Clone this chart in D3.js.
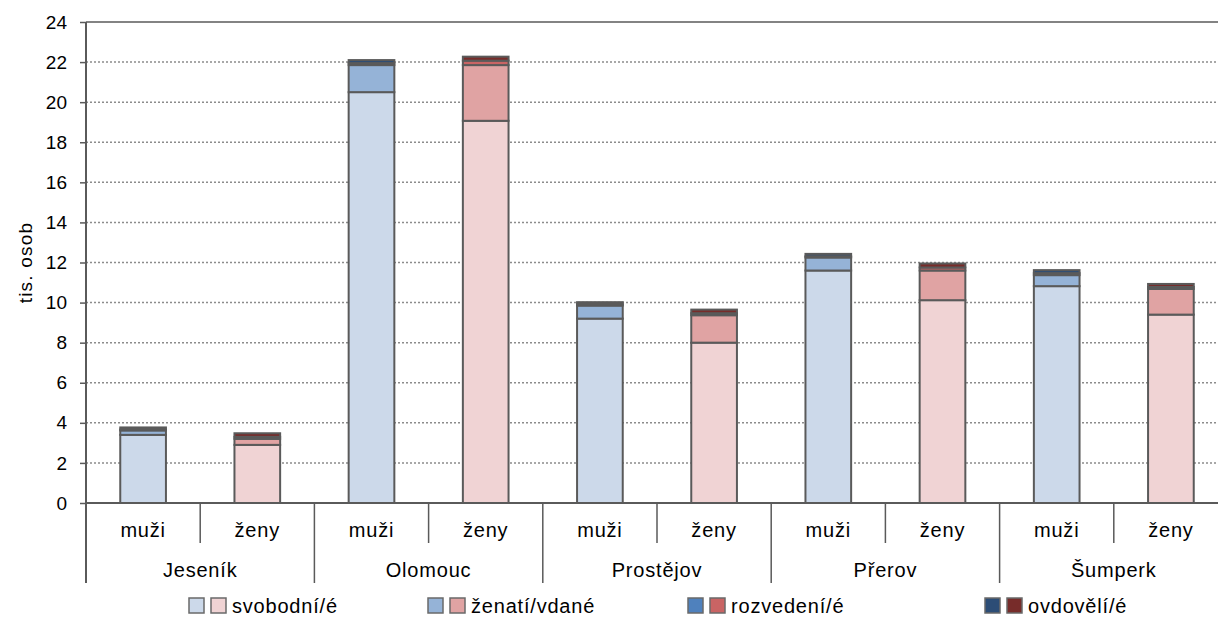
<!DOCTYPE html>
<html>
<head>
<meta charset="utf-8">
<script src="https://cdn.jsdelivr.net/npm/d3@7"></script>
<style>
    body { margin: 0; background: #fff; }
    svg text { font-family: "Liberation Sans", Arial, sans-serif; fill: #000; }
</style>
</head>
<body>
<div id="chart"></div>
<script>
// Data (tis. osob)
const districts = ["Jeseník", "Olomouc", "Prostějov", "Přerov", "Šumperk"];
const sexes     = ["muži", "ženy"];
const statuses  = ["svobodní/é", "ženatí/vdané", "rozvedení/é", "ovdovělí/é"];

const muziSvobodni  = [3.4, 20.5, 9.2, 11.6, 10.82];
const muziZenati    = [0.22, 1.35, 0.65, 0.65, 0.55];
const muziRozvedeni = [0.05, 0.1, 0.07, 0.06, 0.1];
const muziOvdoveli  = [0.1, 0.15, 0.1, 0.12, 0.15];

const zenySvobodne  = [2.9, 19.07, 8.0, 10.12, 9.4];
const zenyVdane     = [0.3, 2.78, 1.37, 1.48, 1.28];
const zenyRozvedene = [0.1, 0.22, 0.1, 0.15, 0.1];
const zenyOvdovele  = [0.18, 0.2, 0.18, 0.2, 0.15];

const yTicks = d3.range(0, 25, 2);

const colors = {
    "muži": ["#ccd9ea", "#95b3d7", "#4f81bd", "#2c4d76"],
    "ženy": ["#f0d3d4", "#e0a3a3", "#c96464", "#772c2a"],
};

const rows = [];
districts.forEach((d, i) => {
    rows.push({district: d, sex: "muži",
        values: [muziSvobodni[i], muziZenati[i], muziRozvedeni[i], muziOvdoveli[i]]});
    rows.push({district: d, sex: "ženy",
        values: [zenySvobodne[i], zenyVdane[i], zenyRozvedene[i], zenyOvdovele[i]]});
});

const width = 1218, height = 617;
const plot = {left: 86, right: 1228, top: 22, bottom: 503};
const stroke = "#5a5a5a";
const fontSize = 20, spacing = "0.8px";

const svg = d3.select("#chart").append("svg")
    .attr("width", width)
    .attr("height", height);

const yScale = d3.scaleLinear().domain([0, 24]).range([plot.bottom, plot.top]);
const xGroup = d3.scaleBand().domain(districts).range([plot.left, plot.right]);
const xSub   = d3.scaleBand().domain(sexes).range([0, xGroup.bandwidth()]).paddingInner(0.6).paddingOuter(0.3);

// grid
svg.append("g").selectAll("line")
    .data(yTicks.filter(t => t > 0 && t < 24))
    .join("line")
        .attr("x1", plot.left).attr("x2", width)
        .attr("y1", d => yScale(d)).attr("y2", d => yScale(d))
        .attr("stroke", "#8c8c8c")
        .attr("stroke-width", 1.5)
        .attr("stroke-dasharray", "2,2");

svg.append("line")
    .attr("x1", plot.left).attr("x2", width)
    .attr("y1", yScale(24)).attr("y2", yScale(24))
    .attr("stroke", stroke).attr("stroke-width", 1.5);

// bars
const barG = svg.append("g");
rows.forEach(r => {
    let acc = 0;
    const x = xGroup(r.district) + xSub(r.sex);
    r.values.forEach((v, k) => {
        barG.append("rect")
            .attr("x", x)
            .attr("y", yScale(acc + v))
            .attr("width", xSub.bandwidth())
            .attr("height", yScale(acc) - yScale(acc + v))
            .attr("fill", colors[r.sex][k])
            .attr("stroke", stroke)
            .attr("stroke-width", 2);
        acc += v;
    });
});

// y axis
const yAxis = d3.axisLeft(yScale).tickValues(yTicks).tickSize(6).tickPadding(13);
svg.append("g")
    .attr("transform", `translate(${plot.left},0)`)
    .call(yAxis)
    .call(g => g.select(".domain").remove())
    .call(g => g.selectAll(".tick line").attr("stroke", stroke).attr("stroke-width", 1.5))
    .call(g => g.selectAll(".tick text")
        .attr("font-size", 19)
        .attr("font-family", "Liberation Sans, Arial, sans-serif"));

svg.append("line")
    .attr("x1", plot.left).attr("x2", plot.left)
    .attr("y1", plot.top).attr("y2", 583)
    .attr("stroke", stroke).attr("stroke-width", 2);

svg.append("text")
    .attr("transform", `translate(32,${(plot.top + plot.bottom) / 2}) rotate(-90)`)
    .attr("text-anchor", "middle")
    .attr("font-size", 19)
    .attr("letter-spacing", "1.2px")
    .text("tis. osob");

// category axis
svg.append("line")
    .attr("x1", plot.left).attr("x2", width)
    .attr("y1", plot.bottom).attr("y2", plot.bottom)
    .attr("stroke", stroke).attr("stroke-width", 2);

const catG = svg.append("g");
districts.forEach(d => {
    const x0 = xGroup(d), bw = xGroup.bandwidth();
    catG.append("line")
        .attr("x1", x0 + bw).attr("x2", x0 + bw)
        .attr("y1", plot.bottom).attr("y2", 583)
        .attr("stroke", stroke).attr("stroke-width", 1.5);
    catG.append("line")
        .attr("x1", x0 + bw / 2).attr("x2", x0 + bw / 2)
        .attr("y1", plot.bottom).attr("y2", 543)
        .attr("stroke", stroke).attr("stroke-width", 1.5);
    sexes.forEach(s => {
        catG.append("text")
            .attr("x", x0 + xSub(s) + xSub.bandwidth() / 2)
            .attr("y", 537)
            .attr("text-anchor", "middle")
            .attr("font-size", fontSize)
            .attr("letter-spacing", spacing)
            .text(s);
    });
    catG.append("text")
        .attr("x", x0 + bw / 2)
        .attr("y", 577)
        .attr("text-anchor", "middle")
        .attr("font-size", fontSize)
        .attr("letter-spacing", spacing)
        .text(d);
});

// legend
const legendX = [189, 428, 688, 985];
const legend = svg.append("g");
statuses.forEach((s, k) => {
    const g = legend.append("g").attr("transform", `translate(${legendX[k]},598)`);
    sexes.forEach((sx, j) => {
        g.append("rect")
            .attr("x", j * 22).attr("y", 0)
            .attr("width", 15).attr("height", 15)
            .attr("fill", colors[sx][k])
            .attr("stroke", "#6a6a6a").attr("stroke-width", 1.5);
    });
    g.append("text")
        .attr("x", 43).attr("y", 15)
        .attr("font-size", fontSize)
        .attr("letter-spacing", spacing)
        .text(s);
});
</script>
</body>
</html>
